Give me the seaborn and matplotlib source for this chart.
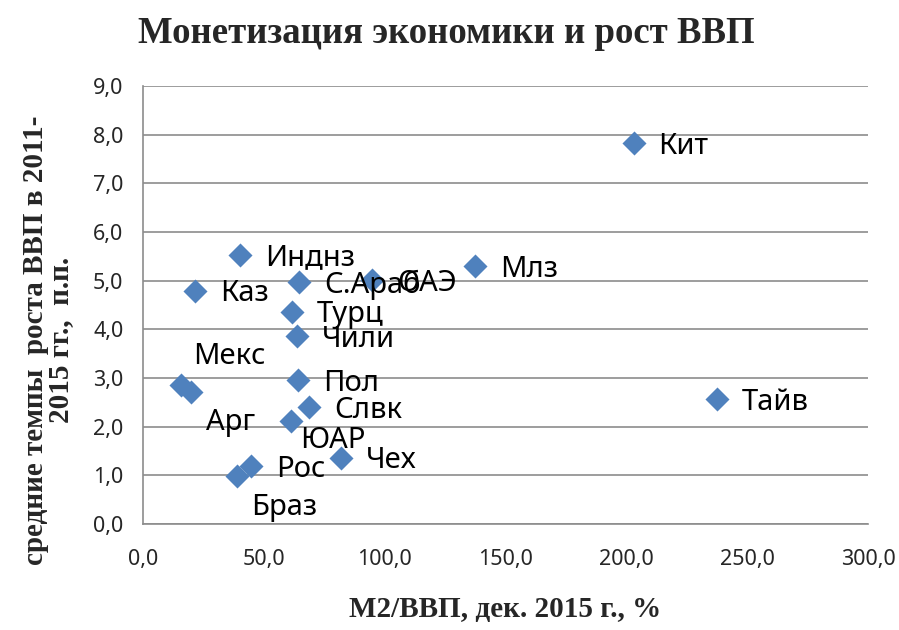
"""
Монетизация экономики и рост ВВП - scatter with country labels
"""

import matplotlib
matplotlib.use("Agg")
import matplotlib.pyplot as plt
from matplotlib.ticker import FuncFormatter, MultipleLocator
import seaborn as sns
import pandas as pd

# ---------- DATA ----------
countries = ["Кит", "Тайв", "Млз", "ОАЭ", "Инднз", "С.Араб", "Каз", "Турц", "Чили",
             "Пол", "Слвк", "Мекс", "Арг", "ЮАР", "Чех", "Рос", "Браз"]
m2_gdp = [203.0, 237.5, 137.4, 94.7, 40.1, 64.5, 21.5, 61.6, 63.7,
          64.1, 68.7, 15.7, 19.9, 61.2, 81.9, 44.7, 38.9]
gdp_growth = [7.82, 2.57, 5.30, 5.01, 5.53, 4.97, 4.79, 4.36, 3.86,
              2.96, 2.40, 2.86, 2.72, 2.12, 1.36, 1.19, 0.99]

df = pd.DataFrame({"country": countries, "x": m2_gdp, "y": gdp_growth})

# label offsets in pixels (manual placement like the original)
offsets = {"Мекс": (12, 28), "Арг": (15, -31), "ЮАР": (9, -20), "Браз": (14, -32)}

# ---------- PLOT ----------
sns.set_style("white")
fig = plt.figure(figsize=(8.99, 6.3), dpi=100)
ax = fig.add_axes([0.159, 0.168, 0.8065, 0.6955])

sns.scatterplot(data=df, x="x", y="y", marker="D", s=150, color="#4F81BD",
                edgecolor="#4F81BD", linewidth=0, ax=ax, zorder=3)

for _, r in df.iterrows():
    dx, dy = offsets.get(r["country"], (25, -3))
    ax.annotate(r["country"], (r["x"], r["y"]), xytext=(dx * 0.72, dy * 0.72),
                textcoords="offset points", ha="left", va="center",
                fontsize=21, family="Noto Sans", color="black", zorder=4)

ax.set_xlim(0, 300)
ax.set_ylim(0, 9)
ax.xaxis.set_major_locator(MultipleLocator(50))
ax.yaxis.set_major_locator(MultipleLocator(1))
fmt = FuncFormatter(lambda v, p: f"{v:.1f}".replace(".", ","))
ax.xaxis.set_major_formatter(fmt)
ax.yaxis.set_major_formatter(fmt)

ax.yaxis.grid(True, color="#8c8c8c", linewidth=1.2)
ax.set_axisbelow(True)
for s in ["top", "right"]:
    ax.spines[s].set_visible(False)
for s in ["left", "bottom"]:
    ax.spines[s].set_color("#8c8c8c")
    ax.spines[s].set_linewidth(1.2)

ax.tick_params(axis="x", direction="out", length=6, color="#8c8c8c", width=1.2,
               labelsize=15.5, pad=12)
ax.tick_params(axis="y", direction="inout", length=8, color="#8c8c8c", width=1.2,
               labelsize=15.5, pad=10)
for lab in ax.get_xticklabels() + ax.get_yticklabels():
    lab.set_family("Noto Sans")

ax.set_xlabel("М2/ВВП, дек. 2015 г., %", family="Liberation Serif",
              fontweight="bold", fontsize=21)
ax.xaxis.set_label_coords(0.5, -0.165)
ax.set_ylabel("средние темпы  роста ВВП в 2011-\n2015 гг.,  п.п.",
              family="Liberation Serif", fontweight="bold", fontsize=21,
              linespacing=0.9)
ax.yaxis.set_label_coords(-0.095, 0.42)
fig.suptitle("Монетизация экономики и рост ВВП", family="Liberation Serif",
             fontweight="bold", fontsize=26.5, x=0.497, y=0.947, va="center")

plt.savefig("out.png", dpi=100)
plt.close()
